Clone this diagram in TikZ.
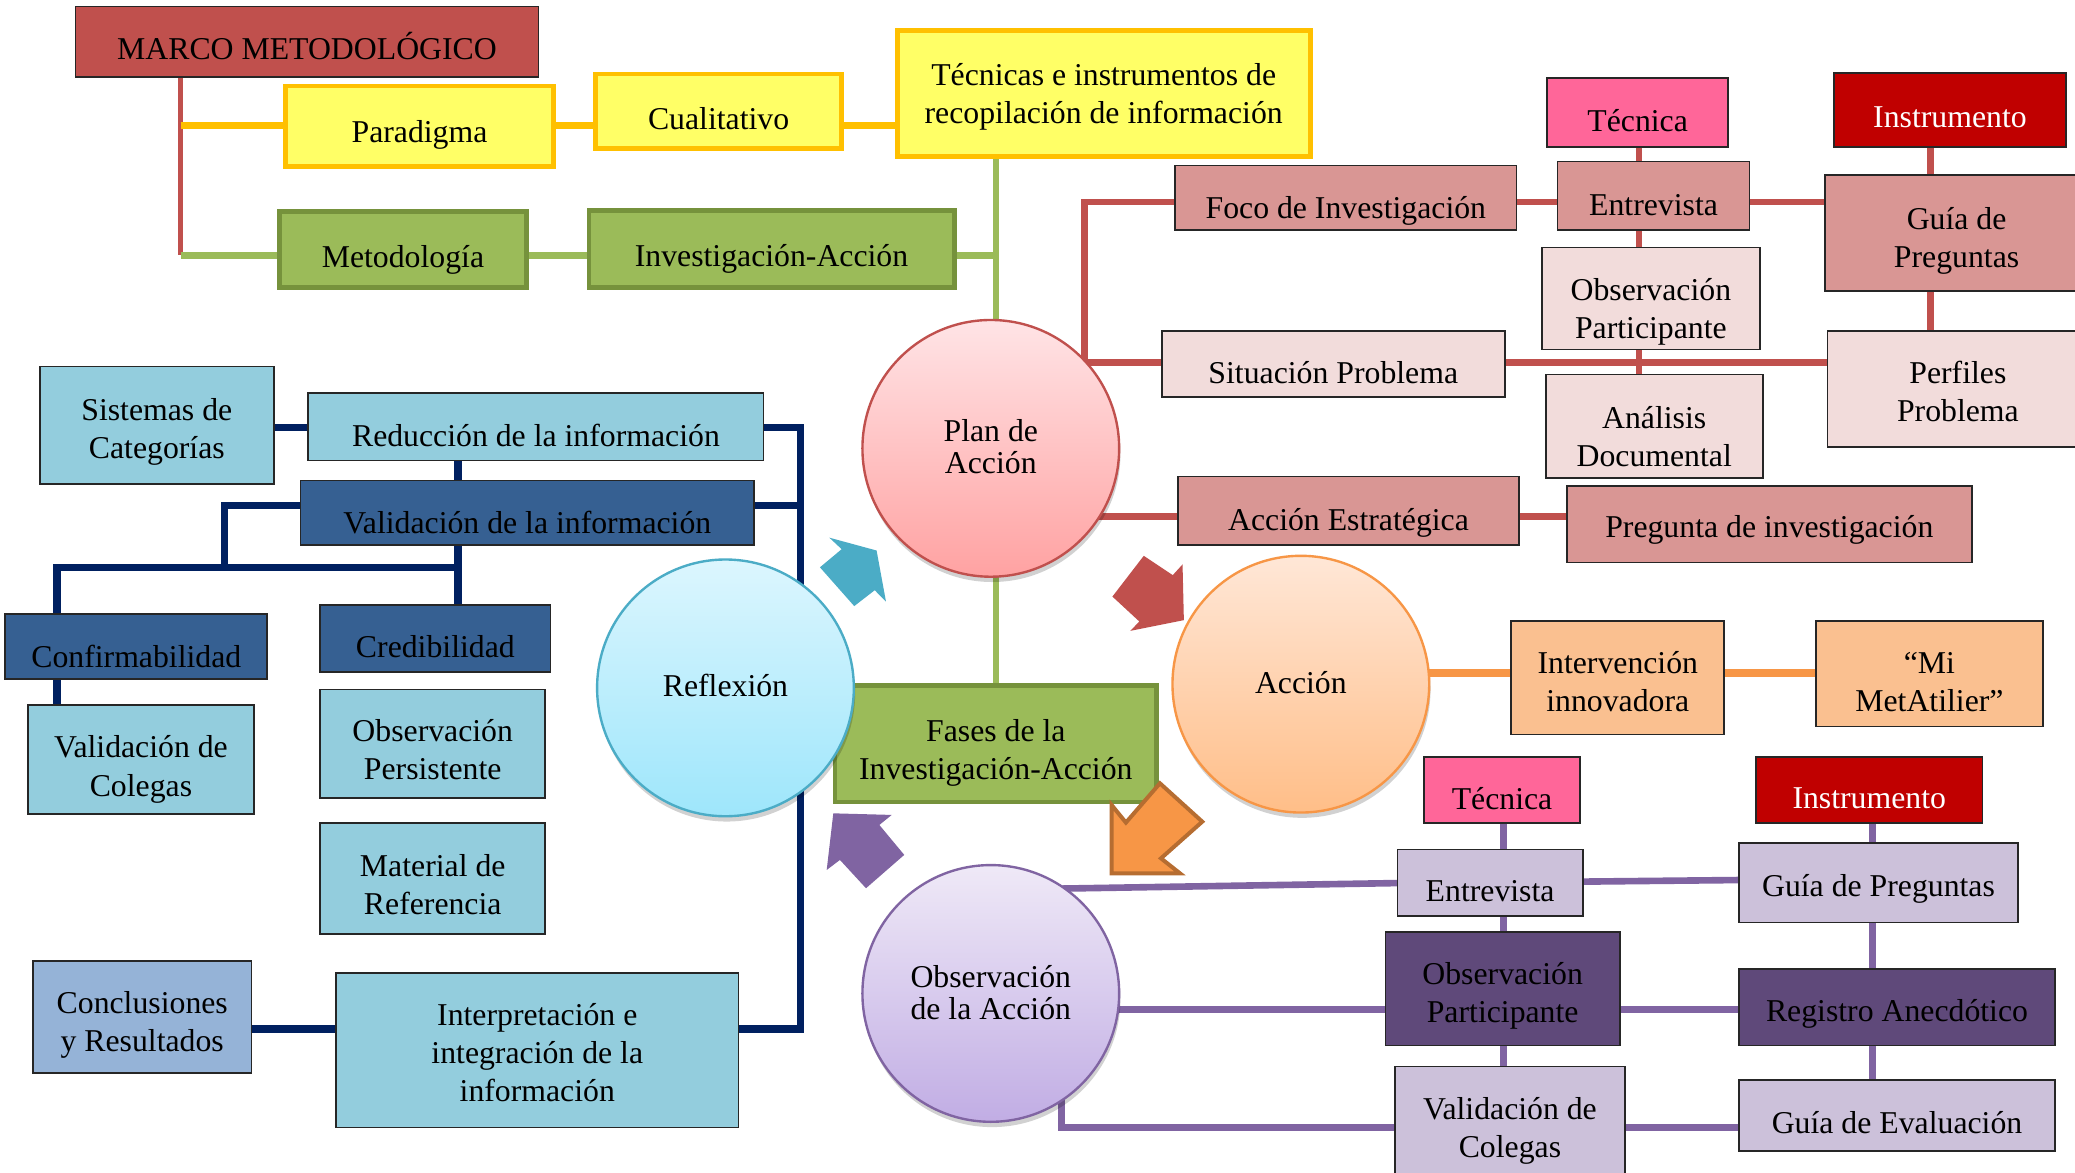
\documentclass[tikz,border=0pt]{standalone}
\usepackage{fontspec}
\setmainfont{Liberation Serif}
\usetikzlibrary{shadows}

\definecolor{marcofill}{HTML}{C0504D}
\definecolor{yelfill}{HTML}{FFFF66}
\definecolor{yelline}{HTML}{FFC000}
\definecolor{grnfill}{HTML}{9BBB59}
\definecolor{grnline}{HTML}{76923C}
\definecolor{rosedark}{HTML}{D99694}
\definecolor{roselight}{HTML}{F2DCDB}
\definecolor{pinkt}{HTML}{FF6699}
\definecolor{instr}{HTML}{C00000}
\definecolor{bluelt}{HTML}{93CDDD}
\definecolor{bluedk}{HTML}{366092}
\definecolor{bluemid}{HTML}{95B3D7}
\definecolor{orgbox}{HTML}{FAC090}
\definecolor{purlt}{HTML}{CCC1DA}
\definecolor{purdk}{HTML}{5F497A}
\definecolor{boxline}{HTML}{262626}
\definecolor{navyln}{HTML}{002060}
\definecolor{redln}{HTML}{C0504D}
\definecolor{orgln}{HTML}{F79646}
\definecolor{purln}{HTML}{8064A2}
\definecolor{tealfill}{HTML}{4BACC6}
\definecolor{orgedge}{HTML}{B66D31}
\definecolor{planTop}{HTML}{FFE4E6}
\definecolor{planBot}{HTML}{FFA2A2}
\definecolor{reflTop}{HTML}{DCF6FE}
\definecolor{reflBot}{HTML}{9EE6FB}
\definecolor{accTop}{HTML}{FFE7D7}
\definecolor{accBot}{HTML}{FFBE88}
\definecolor{obsTop}{HTML}{EFE9F7}
\definecolor{obsBot}{HTML}{C1ADE4}

\pgfdeclarelayer{bg}
\pgfdeclarelayer{paper}
\pgfsetlayers{paper,bg,main}

% box: name, style, x1, y1, x2, y2, baseline of last line, text
\newcommand\bx[8]{%
  \node[#2, minimum width={(#5-#3)*1pt}, minimum height={(#6-#4)*1pt}] (#1) at ({(#3+#5)/2},{(#4+#6)/2}) {};
  \node[txt, anchor=base] (#1-t) at ({(#3+#5)/2},#7) {#8};
}

\begin{document}
\begin{tikzpicture}[x=1pt,y=-1pt,
  txt/.style={inner sep=0, outer sep=0, align=center, font=\fontsize{24}{28.8}\selectfont},
  ctxt/.style={inner sep=0, outer sep=0, align=center, font=\fontsize{24}{24}\selectfont},
  boxbase/.style={rectangle, inner sep=0, outer sep=0},
  thinedge/.style={boxbase, draw=boxline, line width=1.3},
  bxmarco/.style={thinedge, fill=marcofill},
  bxyel/.style={boxbase, fill=yelfill, draw=yelline, line width=3.6},
  bxgrn/.style={boxbase, fill=grnfill, draw=grnline, line width=3.6},
  bxrose/.style={thinedge, fill=rosedark},
  bxpale/.style={thinedge, fill=roselight},
  bxpink/.style={thinedge, fill=pinkt},
  bxinst/.style={thinedge, fill=instr},
  bxblue/.style={thinedge, fill=bluelt},
  bxnavy/.style={thinedge, fill=bluedk},
  bxsteel/.style={thinedge, fill=bluemid},
  bxorg/.style={thinedge, fill=orgbox},
  bxlav/.style={thinedge, fill=purlt},
  bxplum/.style={thinedge, fill=purdk},
  circ/.style={circle, minimum size=194, inner sep=0, outer sep=0, line width=1.8,
    drop shadow={shadow xshift=1pt, shadow yshift=-4pt, opacity=0.18, fill=black}},
  lnred/.style={draw=redln, line width=5},
  lnyel/.style={draw=yelline, line width=5.5},
  lngrn/.style={draw=grnfill, line width=5},
  lnnavy/.style={draw=navyln, line width=5.5},
  lnpur/.style={draw=purln, line width=5},
  lnorg/.style={draw=orgln, line width=6},
]
\useasboundingbox (0,0) rectangle (1568,886);
\begin{pgfonlayer}{paper}
  \fill[white] (0,0) rectangle (1568,886);
\end{pgfonlayer}

% methodological frame
\bx{marco}{bxmarco}{57}{5}{407}{58}{45.3}{MARCO METODOLÓGICO}
\bx{parad}{bxyel}{216}{65}{418}{126}{107.8}{Paradigma}
\bx{cual}{bxyel}{450}{56}{636}{112}{98.2}{Cualitativo}
\bx{tecn}{bxyel}{678}{23}{990}{118}{93.7}{Técnicas e instrumentos de\\recopilación de información}
\bx{metod}{bxgrn}{211}{160}{398}{217}{202.3}{Metodología}
\bx{invac}{bxgrn}{445}{159}{721}{217}{201.5}{Investigación-Acción}

% plan of action
\bx{foco}{bxrose}{888}{125}{1146}{174}{164.8}{Foco de Investigación}
\bx{tecA}{bxpink}{1169}{59}{1306}{111}{99.2}{Técnica}
\bx{insA}{bxinst}{1386}{55}{1561}{111}{96}{\color{white}Instrumento}
\bx{entA}{bxrose}{1177}{122}{1322}{174}{162.8}{Entrevista}
\bx{guiaA}{bxrose}{1379}{132}{1578}{220}{202}{Guía de\\Preguntas}
\bx{obsA}{bxpale}{1165}{187}{1330}{264}{256}{Observación\\Participante}
\bx{sitA}{bxpale}{878}{250}{1137}{300}{290}{Situación Problema}
\bx{anaA}{bxpale}{1168}{283}{1332}{361}{352.8}{Análisis\\Documental}
\bx{perA}{bxpale}{1381}{250}{1578}{338}{318.7}{Perfiles\\Problema}
\bx{accest}{bxrose}{890}{360}{1148}{412}{400.5}{Acción Estratégica}
\bx{preg}{bxrose}{1184}{367}{1490}{425}{406.3}{Pregunta de investigación}

% reflection
\bx{sist}{bxblue}{30}{277}{207}{366}{346.3}{Sistemas de\\Categorías}
\bx{reduc}{bxblue}{233}{297}{577}{348}{337.5}{Reducción de la información}
\bx{valinf}{bxnavy}{227}{363}{570}{412}{403}{Validación de la información}
\bx{confirm}{bxnavy}{4}{464}{202}{513}{504.2}{Confirmabilidad}
\bx{cred}{bxnavy}{242}{457}{416}{508}{496.7}{Credibilidad}
\bx{valcol}{bxblue}{21}{533}{192}{615}{601.5}{Validación de\\Colegas}
\bx{obsper}{bxblue}{242}{521}{412}{603}{589.4}{Observación\\Persistente}
\bx{mater}{bxblue}{242}{622}{412}{706}{690.9}{Material de\\Referencia}
\bx{concl}{bxsteel}{25}{726}{190}{811}{794.7}{Conclusiones\\y Resultados}
\bx{interp}{bxblue}{254}{735}{558}{852}{832.5}{Interpretación e\\integración de la\\información}

% phases, action, observation
\bx{fases}{bxgrn}{631}{518}{874}{606}{589.2}{Fases de la\\Investigación-Acción}
\bx{interv}{bxorg}{1142}{469}{1303}{555}{537.7}{Intervención\\innovadora}
\bx{mimet}{bxorg}{1372}{469}{1544}{549}{537.7}{“Mi\\MetAtilier”}
\bx{tecB}{bxpink}{1076}{572}{1194}{622}{612}{Técnica}
\bx{insB}{bxinst}{1327}{572}{1498}{622}{610.8}{\color{white}Instrumento}
\bx{entB}{bxlav}{1056}{642}{1196}{692}{681.3}{Entrevista}
\bx{guiaB}{bxlav}{1314}{637}{1525}{697}{677.6}{Guía de Preguntas}
\bx{obsB}{bxplum}{1047}{704}{1224}{790}{772.8}{Observación\\Participante}
\bx{regB}{bxplum}{1314}{732}{1553}{790}{772}{Registro Anecdótico}
\bx{valB}{bxlav}{1054}{806}{1228}{900}{874.5}{Validación de\\Colegas}
\bx{evalB}{bxlav}{1314}{816}{1553}{870}{856.4}{Guía de Evaluación}

% the four phases
\node[circ, top color=planTop, bottom color=planBot, draw=redln] (plan) at (748.7,338.8) {};
\node[ctxt, anchor=base] (plan-t) at (748.7,357.7) {Plan de\\Acción};
\node[circ, top color=reflTop, bottom color=reflBot, draw=tealfill] (refl) at (548.2,519.8) {};
\node[ctxt, anchor=base] (refl-t) at (548.2,526.4) {Reflexión};
\node[circ, top color=accTop, bottom color=accBot, draw=orgln] (accion) at (983,517) {};
\node[ctxt, anchor=base] (accion-t) at (983,524.4) {Acción};
\node[circ, top color=obsTop, bottom color=obsBot, draw=purln] (obsc) at (748.7,750.7) {};
\node[ctxt, anchor=base] (obsc-t) at (748.7,770.2) {Observación\\de la Acción};

% cycle arrows
\fill[tealfill] (619.6,428.7) -- (636,415) -- (626.7,406.3) -- (662.4,416) -- (669.5,454.6) -- (661,446) -- (645.5,458) -- cycle;
\fill[redln] (864.3,420) -- (886.2,434.6) -- (893.6,426.5) -- (894.6,468.6) -- (854.2,476.7) -- (860.9,469.6) -- (840.6,450.8) -- cycle;
\filldraw[fill=orgln, draw=orgedge, line width=3, line join=miter] (876.5,591.9) -- (908.5,620.9) -- (877.3,648.6) -- (891.6,659.9) -- (840,659.9) -- (840,608.3) -- (850.8,621.6) -- cycle;
\fill[purln] (629.7,614.6) -- (673.8,615.8) -- (664.5,623.4) -- (683.3,646) -- (654.4,671.2) -- (634.7,649.8) -- (624.7,657.4) -- cycle;

\begin{pgfonlayer}{bg}
  % frame connectors
  \coordinate (mk) at (136.4,193);
  \coordinate (yk) at (136.4,95);
  \coordinate (gv) at (752.5,193);
  \draw[lnred, line width=4.5] (marco.south -| mk) -- (mk);
  \draw[lnyel] (yk) -- (parad.west |- yk);
  \draw[lnyel] (parad.east |- yk) -- (cual.west |- yk);
  \draw[lnyel] (cual.east |- yk) -- (tecn.west |- yk);
  \draw[lngrn] (mk) -- (metod.west |- mk);
  \draw[lngrn] (metod.east |- mk) -- (invac.west |- mk);
  \draw[lngrn] (invac.east |- gv) -- (gv);
  \draw[lngrn] (tecn.south -| gv) -- (gv |- plan.north);
  \draw[lngrn] (gv |- plan.south) -- (fases.north -| gv);

  % plan of action connectors
  \coordinate (ra) at (819.5,152.7);
  \coordinate (rb) at (819.5,274);
  \coordinate (rt) at (1238.5,0);
  \coordinate (ri) at (1459,0);
  \coordinate (rc) at (800,390.4);
  \draw[lnred] (foco.west |- ra) -- (ra) -- (rb) -- (sitA.west |- rb);
  \draw[lnred] (foco.east |- ra) -- (entA.west |- ra);
  \draw[lnred] (entA.east |- ra) -- (guiaA.west |- ra);
  \draw[lnred] (sitA.east |- rb) -- (perA.west |- rb);
  \draw[lnred] (tecA.south -| rt) -- (entA.north -| rt);
  \draw[lnred] (entA.south -| rt) -- (obsA.north -| rt);
  \draw[lnred] (obsA.south -| rt) -- (anaA.north -| rt);
  \draw[lnred] (insA.south -| ri) -- (guiaA.north -| ri);
  \draw[lnred] (guiaA.south -| ri) -- (perA.north -| ri);
  \draw[lnred] (rc) -- (accest.west |- rc);
  \draw[lnred] (accest.east |- rc) -- (preg.west |- rc);

  % action connectors
  \coordinate (oa) at (1060,508.7);
  \draw[lnorg] (oa) -- (interv.west |- oa);
  \draw[lnorg] (interv.east |- oa) -- (mimet.west |- oa);

  % reflection connectors
  \coordinate (na) at (605,323);
  \coordinate (nb) at (605,777.5);
  \coordinate (nc) at (605,382);
  \coordinate (nx) at (346,429);
  \coordinate (nl) at (169.5,382);
  \coordinate (nf) at (43,429);
  \draw[lnnavy] (sist.east |- na) -- (reduc.west |- na);
  \draw[lnnavy] (reduc.east |- na) -- (na) -- (nb) -- (interp.east |- nb);
  \draw[lnnavy] (valinf.east |- nc) -- (nc);
  \draw[lnnavy] (reduc.south -| nx) -- (valinf.north -| nx);
  \draw[lnnavy] (valinf.south -| nx) -- (cred.north -| nx);
  \draw[lnnavy] (valinf.west |- nl) -- (nl) -- (nl |- nx);
  \draw[lnnavy] (nx) -- (nf) -- (confirm.north -| nf);
  \draw[lnnavy] (confirm.south -| nf) -- (valcol.north -| nf);
  \draw[lnnavy] (concl.east |- nb) -- (interp.west |- nb);

  % observation connectors
  \coordinate (pa) at (800,671.5);
  \coordinate (pb) at (0,667.3);
  \coordinate (pc) at (0,666.2);
  \coordinate (pd) at (0,665);
  \coordinate (pe) at (835,763);
  \coordinate (pf) at (802,825);
  \coordinate (pg) at (802,852);
  \coordinate (pt) at (1136,0);
  \coordinate (pq) at (1415,0);
  \draw[lnpur] (pa) -- (entB.west |- pb);
  \draw[lnpur] (entB.east |- pc) -- (guiaB.west |- pd);
  \draw[lnpur] (pe) -- (obsB.west |- pe);
  \draw[lnpur] (obsB.east |- pe) -- (regB.west |- pe);
  \draw[lnpur] (pf) -- (pg) -- (valB.west |- pg);
  \draw[lnpur] (valB.east |- pg) -- (evalB.west |- pg);
  \draw[lnpur] (tecB.south -| pt) -- (entB.north -| pt);
  \draw[lnpur] (entB.south -| pt) -- (obsB.north -| pt);
  \draw[lnpur] (obsB.south -| pt) -- (valB.north -| pt);
  \draw[lnpur] (insB.south -| pq) -- (guiaB.north -| pq);
  \draw[lnpur] (guiaB.south -| pq) -- (regB.north -| pq);
  \draw[lnpur] (regB.south -| pq) -- (evalB.north -| pq);
\end{pgfonlayer}
\end{tikzpicture}
\end{document}
